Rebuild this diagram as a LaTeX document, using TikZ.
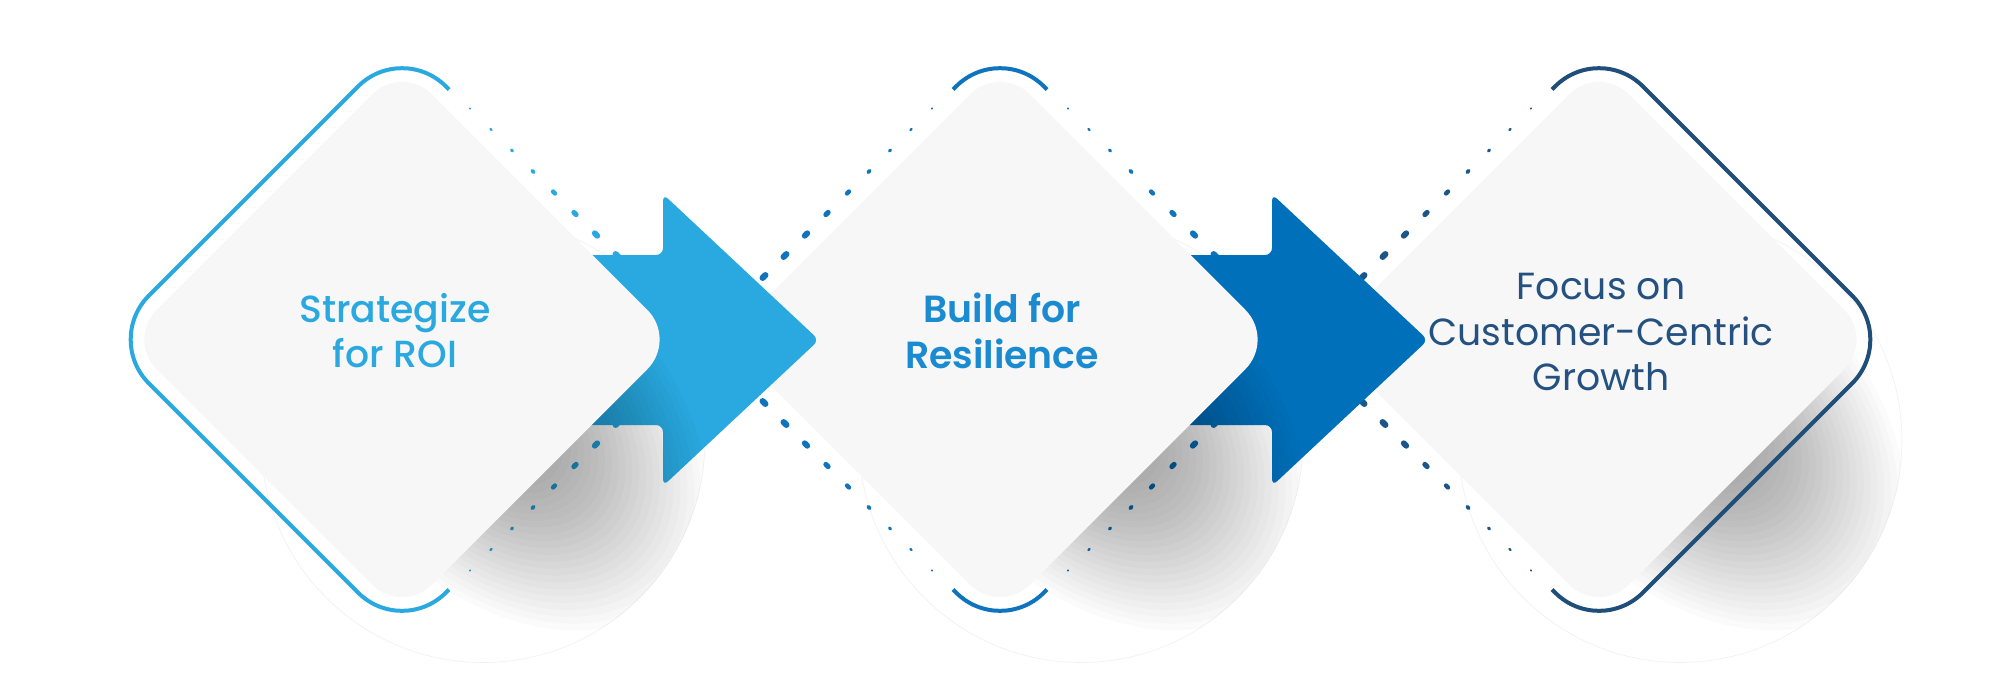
\documentclass[tikz,border=0pt]{standalone}
\usepackage{fontspec}
\setmainfont{Poppins}
\newfontfamily\popmed{Poppins Medium}
\newfontfamily\popsemi{Poppins SemiBold}
\definecolor{cOne}{HTML}{29A9E0}
\definecolor{cTwo}{HTML}{0F74BD}
\definecolor{cTwoT}{HTML}{1A8BD0}
\definecolor{aTwo}{HTML}{0070BA}
\definecolor{cThree}{HTML}{1F4E79}
\definecolor{cThreeT}{HTML}{245180}
\definecolor{cThreeD}{HTML}{1A5687}
\definecolor{grayfill}{HTML}{F7F7F7}
\definecolor{faintline}{HTML}{F0F0F0}
% gray rounded diamond
\newcommand{\grayd}[2]{%
  \fill[grayfill, rounded corners=0.84cm] (#1+275,#2) -- (#1,#2+275) -- (#1-275,#2) -- (#1,#2-275) -- cycle;}
% big arrow
\newcommand{\bigarrow}[2]{%
  \fill[#1, rounded corners=0.14cm] (#2-100,255) -- (#2,255) -- (#2,194) -- (#2+156,340) -- (#2,486) -- (#2,425) -- (#2-100,425) -- cycle;}
% tapered dotted row along an edge: colour, vertex x, vertex y, ux, uy
\newcommand{\dotrow}[5]{%
  \foreach \k in {0,...,10}{%
    \pgfmathsetmacro{\dT}{68+21*\k}%
    \pgfmathsetmacro{\dW}{min(1.6+0.7*\k,6.2)}%
    \pgfmathsetmacro{\dX}{#2+(#4)*\dT}%
    \pgfmathsetmacro{\dY}{#3+(#5)*\dT}%
    \pgfmathsetmacro{\dH}{0.22*\dW}%
    \draw[#1, line width=\dW*0.02cm, line cap=round] (\dX-#4*\dH,\dY-#5*\dH) -- (\dX+#4*\dH,\dY+#5*\dH);
  }}
% soft shadow
\newcommand{\dshadow}[2]{%
  \begin{scope}
    \clip (#1+81,#2+101) circle (222);
    \foreach \i in {1,...,30}{%
      \fill[black, opacity=0.017, rotate around={-45:(#1+100,#2+85)}] (#1+100,#2+85) ellipse ({8*\i} and {5.5*\i});
    }
  \end{scope}}
\newcommand{\faintcirc}[2]{%
  \draw[faintline, line width=0.012cm] (#1+81,#2+101) circle (222);}
\begin{document}
\begin{tikzpicture}[x=0.02cm, y=-0.02cm,
  outline/.style={line width=0.08cm},
  lbl/.style={anchor=base, inner sep=0pt, font=\fontsize{21.5}{26}\selectfont}]
\fill[white] (0,0) rectangle (2000,681);
\useasboundingbox (0,0) rectangle (2000,681);

% ---------- Diamond 3 ----------
\coordinate (d3) at (1599,339.5);
\faintcirc{1599}{339.5}
\dotrow{cThreeD}{1599}{40.5}{-1}{1}
\dotrow{cThreeD}{1599}{638.5}{-1}{-1}
\dshadow{1599}{339.5}
\draw[outline, cThree, rounded corners=1.24cm] (1552,89.5) -- (1599,42.5) -- (1896,339.5) -- (1599,636.5) -- (1552,589.5);
\grayd{1599}{339.5}
\node[lbl, text=cThreeT] (t3a) at (1601,299) {Focus on};
\node[lbl, text=cThreeT] (t3b) at (1601,345) {Customer-Centric};
\node[lbl, text=cThreeT] (t3c) at (1601,390) {Growth};

% ---------- Diamond 2 ----------
\coordinate (d2) at (1000,339.5);
\faintcirc{1000}{339.5}
\dotrow{cTwo}{1000}{40.5}{-1}{1}
\dotrow{cTwo}{1000}{638.5}{-1}{-1}
\dotrow{cTwo}{1000}{40.5}{1}{1}
\dotrow{cTwo}{1000}{638.5}{1}{-1}
\bigarrow{aTwo}{1272}
\dshadow{1000}{339.5}
\draw[outline, cTwo, rounded corners=1.24cm] (953,89.5) -- (1000,42.5) -- (1047,89.5);
\draw[outline, cTwo, rounded corners=1.24cm] (953,589.5) -- (1000,636.5) -- (1047,589.5);
\grayd{1000}{339.5}
\node[lbl, text=cTwoT, font=\popsemi\fontsize{21.5}{26}\selectfont] (t2a) at (1002,322.5) {Build for};
\node[lbl, text=cTwoT, font=\popsemi\fontsize{21.5}{26}\selectfont] (t2b) at (1002,368.5) {Resilience};

% ---------- Diamond 1 ----------
\coordinate (d1) at (402,339.5);
\faintcirc{402}{339.5}
\dotrow{cOne}{402}{40.5}{1}{1}
\dotrow{cOne}{402}{638.5}{1}{-1}
\bigarrow{cOne}{663}
\dshadow{402}{339.5}
\draw[outline, cOne, rounded corners=1.24cm] (449,89.5) -- (402,42.5) -- (105,339.5) -- (402,636.5) -- (449,589.5);
\grayd{402}{339.5}
\node[lbl, text=cOne, font=\popmed\fontsize{21.5}{26}\selectfont] (t1a) at (395,322) {Strategize};
\node[lbl, text=cOne, font=\popmed\fontsize{21.5}{26}\selectfont] (t1b) at (395,367) {for ROI};
\end{tikzpicture}
\end{document}
